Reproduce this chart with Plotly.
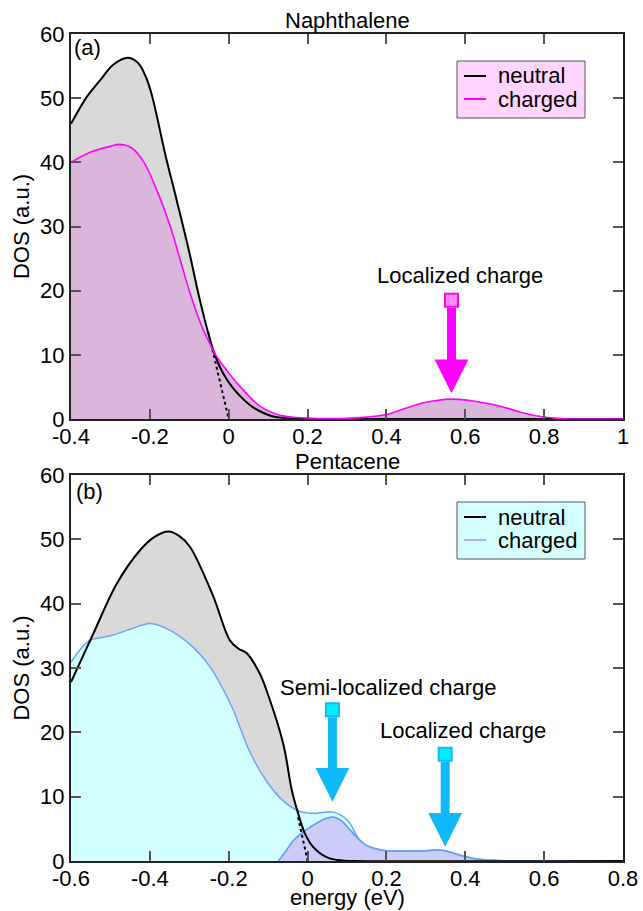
import plotly.graph_objects as go

# ---------------- data ----------------
# Panel (a) Naphthalene
nap_neutral_x = [-0.4, -0.36, -0.326, -0.293, -0.256, -0.23, -0.21, -0.195, -0.16, -0.132, -0.1, -0.073, -0.039, -0.015, 0.011, 0.04, 0.062, 0.09, 0.113, 0.15, 0.2, 1.0]
nap_neutral_y = [46, 50.2, 52.8, 55.2, 56.3, 55.5, 53.3, 50.5, 41.0, 34.1, 26.0, 18.5, 10.7, 7.2, 4.8, 2.9, 1.8, 0.9, 0.4, 0.1, 0, 0]
nap_charged_x = [-0.4, -0.35, -0.3, -0.276, -0.245, -0.215, -0.178, -0.148, -0.124, -0.1, -0.072, -0.05, -0.033, -0.01, 0.03, 0.079, 0.13, 0.2, 0.3, 0.35, 0.4, 0.45, 0.5, 0.565, 0.62, 0.7, 0.75, 0.8, 0.85, 0.9, 1.0]
nap_charged_y = [40, 41.6, 42.5, 42.8, 42.2, 40.0, 35.0, 30.0, 25.0, 20.0, 15.0, 12.0, 10.0, 8.0, 5.0, 2.0, 0.6, 0.15, 0.1, 0.3, 0.7, 1.7, 2.6, 3.1, 2.8, 1.8, 0.9, 0.3, 0.05, 0, 0]
nap_tangent_x = [-0.052, 0.0]
nap_tangent_y = [13.6, 0.0]

# Panel (b) Pentacene
pen_neutral_x = [-0.6, -0.543, -0.484, -0.425, -0.39, -0.353, -0.325, -0.298, -0.239, -0.197, -0.175, -0.154, -0.121, -0.104, -0.062, -0.04, -0.024, -0.007, 0.014, 0.048, 0.082, 0.12, 0.8]
pen_neutral_y = [27.8, 35.4, 43.1, 48.3, 50.3, 51.2, 50.5, 48.8, 41.1, 34.3, 33.0, 32.3, 29.1, 26.5, 18.3, 11.0, 7.4, 4.3, 2.2, 0.6, 0.1, 0, 0]
pen_charged_x = [-0.6, -0.575, -0.552, -0.5, -0.45, -0.4, -0.36, -0.324, -0.29, -0.26, -0.239, -0.21, -0.188, -0.146, -0.104, -0.061, -0.019, 0.02, 0.065, 0.1, 0.133, 0.15, 0.175, 0.2, 0.26, 0.3, 0.336, 0.36, 0.387, 0.429, 0.47, 0.5, 0.55, 0.8]
pen_charged_y = [30.9, 33.0, 34.3, 35.0, 36.0, 36.9, 36.2, 34.9, 33.2, 31.2, 29.4, 26.2, 23.4, 16.9, 12.4, 9.3, 7.7, 7.4, 7.6, 6.4, 3.2, 2.4, 1.85, 1.6, 1.55, 1.6, 1.7, 1.4, 0.9, 0.3, 0.1, 0.03, 0, 0]
pen_local_x = [-0.074, -0.05, -0.036, 0.0, 0.023, 0.045, 0.065, 0.085, 0.108, 0.133, 0.15, 0.175, 0.2, 0.26, 0.3, 0.336, 0.36, 0.387, 0.429, 0.47, 0.5, 0.55, 0.8]
pen_local_y = [0, 2.0, 3.2, 5.0, 5.9, 6.6, 6.85, 6.3, 4.8, 3.2, 2.4, 1.85, 1.6, 1.55, 1.6, 1.7, 1.4, 0.9, 0.3, 0.1, 0.03, 0, 0]
pen_tangent_x = [-0.024, 0.0]
pen_tangent_y = [6.8, 0.0]

# annotation arrows: (tip x, tip y, tail x, tail y)
nap_arrows = [(0.565, 4.0, 0.565, 18.5)]
pen_arrows = [(0.063, 9.2, 0.063, 23.5), (0.349, 2.2, 0.349, 16.6)]
nap_labels = [("Localized charge", 0.587, 22.4)]
pen_labels = [("Semi-localized charge", 0.203, 26.9), ("Localized charge", 0.395, 20.3)]

nap_xticks = [-0.4, -0.2, 0, 0.2, 0.4, 0.6, 0.8, 1.0]
nap_xticktext = ["-0.4", "-0.2", "0", "0.2", "0.4", "0.6", "0.8", "1"]
pen_xticks = [-0.6, -0.4, -0.2, 0, 0.2, 0.4, 0.6, 0.8]
pen_xticktext = ["-0.6", "-0.4", "-0.2", "0", "0.2", "0.4", "0.6", "0.8"]
yticks = [0, 10, 20, 30, 40, 50, 60]

legend_names = ["neutral", "charged"]

FONT = "Liberation Sans, Arial, sans-serif"
FS = 22
W, H = 643, 911
ML, MR, MT, MB = 71, 20, 34, 50
PW, PH = W - ML - MR, H - MT - MB

def px2x(px):
    return (px - ML) / PW

def px2y(py):
    return (H - MB - py) / PH

fig = go.Figure()
SM = 1.0

def fill_trace(x, y, color, xa, ya):
    return go.Scatter(x=x, y=y, mode="lines", fill="tozeroy", fillcolor=color,
                      line=dict(width=0, shape="spline", smoothing=SM),
                      showlegend=False, hoverinfo="skip", xaxis=xa, yaxis=ya)

def line_trace(x, y, color, width, xa, ya, dash=None):
    return go.Scatter(x=x, y=y, mode="lines",
                      line=dict(color=color, width=width, shape="spline", smoothing=SM, dash=dash),
                      showlegend=False, hoverinfo="skip", xaxis=xa, yaxis=ya)

# ---- panel (a)
fig.add_trace(fill_trace(nap_neutral_x, nap_neutral_y, "#D9D9D9", "x", "y"))
fig.add_trace(fill_trace(nap_charged_x, nap_charged_y, "#DAB6DA", "x", "y"))
fig.add_trace(line_trace(nap_tangent_x, nap_tangent_y, "black", 2, "x", "y", dash="dot"))
fig.add_trace(line_trace(nap_neutral_x, nap_neutral_y, "black", 2, "x", "y"))
fig.add_trace(line_trace(nap_charged_x, nap_charged_y, "#FF00FF", 1.6, "x", "y"))

# ---- panel (b)
fig.add_trace(fill_trace(pen_neutral_x, pen_neutral_y, "#D9D9D9", "x2", "y2"))
fig.add_trace(fill_trace(pen_charged_x, pen_charged_y, "#D2FFFF", "x2", "y2"))
fig.add_trace(fill_trace(pen_local_x, pen_local_y, "#CCCCF8", "x2", "y2"))
fig.add_trace(line_trace(pen_local_x, pen_local_y, "#5A96F0", 1.5, "x2", "y2"))
fig.add_trace(line_trace(pen_charged_x, pen_charged_y, "#6AA2F6", 1.5, "x2", "y2"))
fig.add_trace(line_trace(pen_tangent_x, pen_tangent_y, "black", 2, "x2", "y2", dash="dot"))
fig.add_trace(line_trace(pen_neutral_x, pen_neutral_y, "black", 2, "x2", "y2"))

annotations = []
shapes = []
for (tx, ty, sx, sy) in nap_arrows:
    annotations.append(dict(x=tx, y=ty, ax=sx, ay=sy, xref="x", yref="y", axref="x", ayref="y",
                            text="", showarrow=True, arrowhead=2, arrowwidth=9, arrowsize=0.75,
                            arrowcolor="#FF00FF", startstandoff=6))
fig.add_trace(go.Scatter(x=[a[2] for a in nap_arrows], y=[a[3] for a in nap_arrows], mode="markers",
                         marker=dict(symbol="square", size=13, color="#FF8CFF", line=dict(color="#FF00FF", width=2)),
                         showlegend=False, hoverinfo="skip", xaxis="x", yaxis="y"))
for (tx, ty, sx, sy) in pen_arrows:
    annotations.append(dict(x=tx, y=ty, ax=sx, ay=sy, xref="x2", yref="y2", axref="x2", ayref="y2",
                            text="", showarrow=True, arrowhead=2, arrowwidth=9, arrowsize=0.75,
                            arrowcolor="#10B8F8", startstandoff=6))
fig.add_trace(go.Scatter(x=[a[2] for a in pen_arrows], y=[a[3] for a in pen_arrows], mode="markers",
                         marker=dict(symbol="square", size=13, color="#00F0FF", line=dict(color="#10B8F8", width=2)),
                         showlegend=False, hoverinfo="skip", xaxis="x2", yaxis="y2"))

for (t, x, y) in nap_labels:
    annotations.append(dict(x=x, y=y, xref="x", yref="y", text=t, showarrow=False,
                            font=dict(size=FS, color="black", family=FONT)))
for (t, x, y) in pen_labels:
    annotations.append(dict(x=x, y=y, xref="x2", yref="y2", text=t, showarrow=False,
                            font=dict(size=FS, color="black", family=FONT)))

# titles and panel labels
annotations.append(dict(x=0.5, y=px2y(20), xref="paper", yref="paper", text="Naphthalene", showarrow=False,
                        xanchor="center", yanchor="middle", font=dict(size=FS, family=FONT, color="black")))
annotations.append(dict(x=0.5, y=px2y(462), xref="paper", yref="paper", text="Pentacene", showarrow=False,
                        xanchor="center", yanchor="middle", font=dict(size=FS, family=FONT, color="black")))
annotations.append(dict(x=px2x(72), y=px2y(48), xref="paper", yref="paper", text="(a)", showarrow=False,
                        xanchor="left", yanchor="middle", font=dict(size=FS, family=FONT, color="black")))
annotations.append(dict(x=px2x(74), y=px2y(492), xref="paper", yref="paper", text="(b)", showarrow=False,
                        xanchor="left", yanchor="middle", font=dict(size=FS, family=FONT, color="black")))
annotations.append(dict(x=0.5, y=px2y(897), xref="paper", yref="paper", text="energy (eV)", showarrow=False,
                        xanchor="center", yanchor="middle", font=dict(size=FS, family=FONT, color="black")))

# hand-drawn legends (box, line samples, labels)
legend_specs = [
    (61, "#FFD5FF", ["black", "#FF00FF"]),
    (502, "#D5FFFF", ["black", "#A8B0FF"]),
]
for (top, bg, cols) in legend_specs:
    shapes.append(dict(type="rect", xref="paper", yref="paper", x0=px2x(457), x1=px2x(585),
                       y0=px2y(top + 57), y1=px2y(top), fillcolor=bg, line=dict(color="#555555", width=1),
                       layer="above"))
    for i, (name, c) in enumerate(zip(legend_names, cols)):
        yc = top + 15 + 23 * i
        shapes.append(dict(type="line", xref="paper", yref="paper", x0=px2x(464), x1=px2x(486),
                           y0=px2y(yc), y1=px2y(yc), line=dict(color=c, width=2), layer="above"))
        annotations.append(dict(x=px2x(496), y=px2y(yc), xref="paper", yref="paper", text=name,
                                showarrow=False, xanchor="left", yanchor="middle",
                                font=dict(size=FS, family=FONT, color="black")))

axis_common = dict(showline=True, linecolor="#222222", linewidth=2, mirror="ticks",
                   ticks="inside", ticklen=10, tickwidth=1.5, tickcolor="#555555",
                   showgrid=False, zeroline=False, automargin=False,
                   tickfont=dict(size=FS, family=FONT, color="black"))

fig.update_layout(
    width=W, height=H,
    margin=dict(l=ML, r=MR, t=MT, b=MB, autoexpand=False),
    paper_bgcolor="white", plot_bgcolor="white",
    font=dict(family=FONT, size=FS, color="black"),
    showlegend=False,
    xaxis=dict(domain=[0, 1], anchor="y", range=[-0.4, 1.0], tickvals=nap_xticks, ticktext=nap_xticktext,
               ticklabelstandoff=-3, **axis_common),
    yaxis=dict(domain=[px2y(419), 1], anchor="x", range=[0, 60], tickvals=yticks,
               title=dict(text="DOS (a.u.)", font=dict(size=FS, family=FONT), standoff=4), **axis_common),
    xaxis2=dict(domain=[0, 1], anchor="y2", range=[-0.6, 0.8], tickvals=pen_xticks, ticktext=pen_xticktext,
                ticklabelstandoff=-3, **axis_common),
    yaxis2=dict(domain=[0, px2y(475)], anchor="x2", range=[0, 60], tickvals=yticks,
                title=dict(text="DOS (a.u.)", font=dict(size=FS, family=FONT), standoff=4), **axis_common),
    annotations=annotations,
    shapes=shapes,
)

fig.write_html("out.html", config={"displayModeBar": False},
               post_script="document.body.style.margin='0px';document.body.style.overflow='hidden';")
